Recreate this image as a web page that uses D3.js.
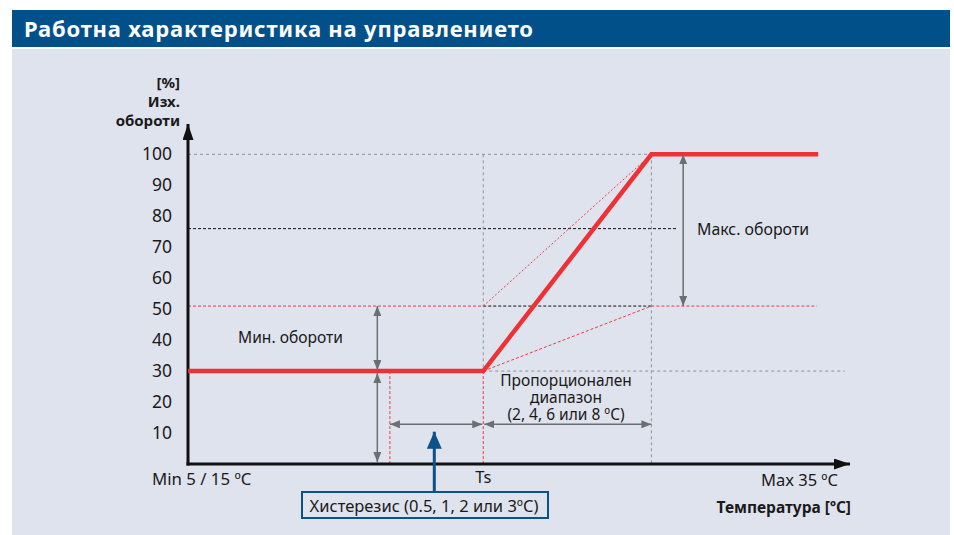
<!DOCTYPE html>
<html>
<head>
<meta charset="utf-8">
<script src="https://cdn.jsdelivr.net/npm/d3@7"></script>
<style>
    body { margin: 0; background: #fff; }
    svg { display: block; font-family: "Noto Sans", sans-serif; }
</style>
</head>
<body>
<div id="chart"></div>
<script>
// values; x is a relative position along the temperature axis (0..100)
const yTicks = [10, 20, 30, 40, 50, 60, 70, 80, 90, 100];
const curveX = [0, 44.6, 70, 95.2];
const curveY = [30, 30, 100, 100];
const tsX = 44.6;          // set point Ts
const hystX = 30.5;        // left edge of hysteresis band
const propEndX = 70;       // end of proportional range
const minLevel = 30;       // min speed
const minTop = 51;         // top of min speed adjustment
const maxLevel = 100;
const midLevel = 76;       // black dashed helper line
const minArrowX = 28.6;
const maxArrowX = 74.8;

const width = 954;
const height = 535;

const svg = d3.select('#chart').append('svg')
    .attr('width', width)
    .attr('height', height);

// background panels
svg.append('rect').attr('x', 12).attr('y', 10).attr('width', 938).attr('height', 37).attr('fill', '#02508a');
svg.append('rect').attr('x', 12).attr('y', 49).attr('width', 938).attr('height', height - 49).attr('fill', '#dfe3ee');

svg.append('text')
    .attr('x', 24).attr('y', 37)
    .attr('fill', '#fff')
    .attr('font-size', '22px')
    .attr('font-weight', 'bold')
    .attr('textLength', 509)
    .attr('lengthAdjust', 'spacing')
    .text('Работна характеристика на управлението');

const x = d3.scaleLinear().domain([0, 100]).range([188, 850]);
const y = d3.scaleLinear().domain([0, 100]).range([464, 154.3]);

const defs = svg.append('defs');
function marker(id, color, len, half) {
    defs.append('marker')
        .attr('id', id)
        .attr('markerUnits', 'userSpaceOnUse')
        .attr('viewBox', `0 ${-half} ${len} ${half * 2}`)
        .attr('refX', len).attr('refY', 0)
        .attr('markerWidth', len).attr('markerHeight', half * 2)
        .attr('orient', 'auto-start-reverse')
        .append('path')
        .attr('d', `M0,${-half}L${len},0L0,${half}Z`)
        .attr('fill', color);
}
marker('grey', '#6b6e72', 10, 4);
marker('axis', '#111', 16, 5.5);
marker('blue', '#0d5189', 17, 7.5);

function hline(v, x0, x1, color, dash) {
    svg.append('line')
        .attr('x1', x(x0)).attr('x2', x(x1))
        .attr('y1', y(v)).attr('y2', y(v))
        .attr('stroke', color).attr('stroke-width', 1)
        .attr('stroke-dasharray', dash);
}
function vline(at, v0, v1, color, dash) {
    svg.append('line')
        .attr('x1', x(at)).attr('x2', x(at))
        .attr('y1', y(v0)).attr('y2', y(v1))
        .attr('stroke', color).attr('stroke-width', 1)
        .attr('stroke-dasharray', dash);
}

const grey = '#8e9196';
const red = '#ec3b40';
const dark = '#111';

// helper grid lines
hline(maxLevel, 0, propEndX, grey, '3,3');
hline(midLevel, 0, 73.9, dark, '3,2');
hline(minTop, 0, tsX, red, '3,2');
hline(minTop, tsX, propEndX, dark, '3,2');
hline(minTop, propEndX, 95, red, '3,2');
hline(minLevel, tsX, 99.2, grey, '3,3');
vline(tsX, maxLevel, minLevel, grey, '3,3');
vline(tsX, minLevel, 0, red, '3,2');
vline(hystX, minLevel, 0, red, '3,2');
vline(propEndX, maxLevel, 0, grey, '3,3');

// thin red slopes for other ranges
svg.append('line')
    .attr('x1', x(tsX)).attr('y1', y(minTop))
    .attr('x2', x(propEndX)).attr('y2', y(maxLevel))
    .attr('stroke', red).attr('stroke-width', 1).attr('stroke-dasharray', '2,2');
svg.append('line')
    .attr('x1', x(tsX)).attr('y1', y(minLevel))
    .attr('x2', x(propEndX)).attr('y2', y(minTop))
    .attr('stroke', red).attr('stroke-width', 1).attr('stroke-dasharray', '3,2');

// axes
svg.append('line')
    .attr('x1', x(0)).attr('y1', y(0) + 1.5)
    .attr('x2', x(0)).attr('y2', 124)
    .attr('stroke', dark).attr('stroke-width', 3)
    .attr('marker-end', 'url(#axis)');
svg.append('line')
    .attr('x1', x(0) - 1.5).attr('y1', y(0))
    .attr('x2', x(100)).attr('y2', y(0))
    .attr('stroke', dark).attr('stroke-width', 3)
    .attr('marker-end', 'url(#axis)');

// main curve
const line = d3.line().x(d => x(d[0])).y(d => y(d[1]));
svg.append('path')
    .datum(d3.zip(curveX, curveY))
    .attr('d', line)
    .attr('fill', 'none')
    .attr('stroke', '#ee3134')
    .attr('stroke-width', 4.5)
    .attr('stroke-linejoin', 'miter');

// dimension arrows
function arrow(x1, y1, x2, y2, both) {
    const l = svg.append('line')
        .attr('x1', x1).attr('y1', y1).attr('x2', x2).attr('y2', y2)
        .attr('stroke', '#6b6e72').attr('stroke-width', 1.5)
        .attr('marker-end', 'url(#grey)');
    if (both) l.attr('marker-start', 'url(#grey)');
}
arrow(x(minArrowX), y(minTop), x(minArrowX), y(minLevel) - 1, true);
arrow(x(minArrowX), y(minLevel) + 2, x(minArrowX), y(0) - 2, true);
arrow(x(maxArrowX), y(maxLevel), x(maxArrowX), y(minTop), true);
arrow(x(hystX), 424.3, x(tsX) - 1, 424.3, true);
arrow(x(tsX) + 1, 424.3, x(propEndX), 424.3, true);

// tick labels
svg.append('g').selectAll('text')
    .data(yTicks)
    .join('text')
    .attr('x', 172)
    .attr('y', d => y(d))
    .attr('dy', '0.35em')
    .attr('text-anchor', 'end')
    .attr('font-size', '17.5px')
    .attr('fill', '#1a1a1a')
    .text(d => d);

// y axis title
[['[%]', 88], ['Изх.', 107], ['обороти', 126]].forEach(([t, yy]) => {
    svg.append('text')
        .attr('x', 180).attr('y', yy)
        .attr('text-anchor', 'end')
        .attr('font-size', '15px').attr('font-weight', 'bold')
        .attr('fill', '#1a1a1a')
        .text(t);
});

function label(t, xx, yy, anchor, size, weight) {
    return svg.append('text')
        .attr('x', xx).attr('y', yy)
        .attr('dy', '0.35em')
        .attr('text-anchor', anchor)
        .attr('font-size', size)
        .attr('font-weight', weight || 'normal')
        .attr('fill', '#1a1a1a')
        .text(t);
}
label('Мин. обороти', 290.5, 338, 'middle', '15.6px');
label('Макс. обороти', 697, 229, 'start', '15.9px');
label('Пропорционален', 566, 381, 'middle', '15.5px');
label('диапазон', 566, 398, 'middle', '15.5px');
label('(2, 4, 6 или 8 ºC)', 566, 415, 'middle', '15.5px');
label('Min 5 / 15 ºC', 152, 479, 'start', '16.8px');
label('Ts', x(tsX), 477, 'middle', '16.5px');
label('Max 35 ºC', 838, 480, 'end', '16.5px');
label('Температура [ºC]', 851, 508, 'end', '15.5px', 'bold');

// hysteresis callout
svg.append('line')
    .attr('x1', 434.3).attr('y1', 491)
    .attr('x2', 434.3).attr('y2', 431.7)
    .attr('stroke', '#0d5189').attr('stroke-width', 3)
    .attr('marker-end', 'url(#blue)');
svg.append('rect')
    .attr('x', 302).attr('y', 492)
    .attr('width', 246).attr('height', 26)
    .attr('fill', '#dfe3ee')
    .attr('stroke', '#0d5189').attr('stroke-width', 2);
label('Хистерезис (0.5, 1, 2 или 3ºC)', 424, 506, 'middle', '16.5px');
</script>
</body>
</html>
